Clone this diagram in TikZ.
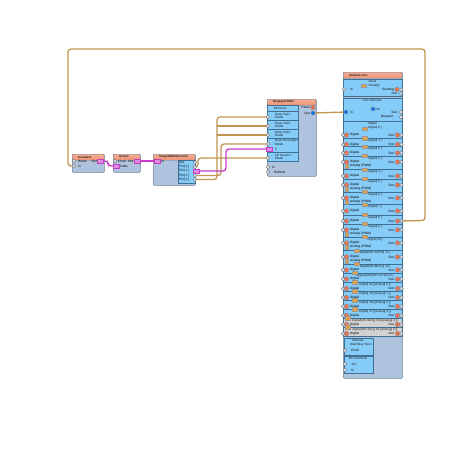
\documentclass[tikz,border=0pt]{standalone}
\usepackage{fontspec}
\setmainfont{Liberation Sans}
\definecolor{panel}{HTML}{AFC3DE}
\definecolor{edge}{HTML}{6E8296}
\definecolor{head}{HTML}{EE9272}
\definecolor{band}{HTML}{86CCF8}
\definecolor{bandedge}{HTML}{3F6F92}
\definecolor{wiretan}{HTML}{C0964F}
\definecolor{wirepink}{HTML}{C83CC8}
\definecolor{pinfill}{HTML}{DCE2EA}
\definecolor{pinred}{HTML}{E8755A}
\definecolor{ico}{HTML}{E8A040}
\definecolor{greyband}{HTML}{D2D2D2}
\tikzset{
  compbox/.style={draw=edge,line width=.7pt,fill=panel,rounded corners=1pt,inner sep=0pt,anchor=north west},
  headbox/.style={draw=edge,line width=.4pt,top color=head!75!white,bottom color=head,rounded corners=1pt,inner sep=0pt,anchor=north west},
  bandbox/.style={draw=bandedge,line width=.6pt,fill=band,inner sep=0pt,anchor=north west},
  greybox/.style={bandbox,fill=greyband},
  ttl/.style={font=\fontsize{3}{3}\selectfont,text=black!90,inner sep=0pt},
  lbl/.style={font=\fontsize{3.2}{3.2}\selectfont,text=black,inner sep=0pt},
  wt/.style={draw=wiretan,line width=1.3pt,rounded corners=3pt},
  wp/.style={draw=wirepink,line width=1.3pt,rounded corners=3pt},
  pinmark/.style={circle,draw=black!55,fill=pinfill,line width=.3pt,minimum size=3.6pt,inner sep=0pt},
  redmark/.style={circle,draw=black!50,fill=pinred,line width=.3pt,minimum size=4.6pt,inner sep=0pt},
  pinkmark/.style={rectangle,draw=wirepink,fill=wirepink!60,line width=.4pt,minimum width=6pt,minimum height=3.6pt,inner sep=0pt},
  bluemark/.style={circle,draw=black!50,fill=blue!55!cyan,line width=.3pt,minimum size=4pt,inner sep=0pt},
  icomark/.style={rectangle,fill=ico,draw=black!40,line width=.25pt,minimum width=5pt,minimum height=3.4pt,inner sep=0pt},
}
\newcommand{\compbox}[6]{%
  \node[compbox,minimum width=#4pt,minimum height=#5pt] (#1) at (#2,#3) {};
  \node[headbox,minimum width=#4pt,minimum height=6pt] (#1h) at (#2,#3) {};
  \node[ttl,anchor=west] (#1t) at ([xshift=6pt]#1h.west) {\textbf{#6}};
}
\newcommand{\bandbox}[6]{\node[#6,minimum width=#4pt,minimum height=#5pt] (#1) at (#2,#3) {};}
\begin{document}
\begin{tikzpicture}[x=1pt,y=-1pt]
\useasboundingbox (0,0) rectangle (474,455);
\fill[white] (0,0) rectangle (474,455);
\compbox{cnt}{72}{154}{32}{18}{Counter1}
\node[lbl,anchor=west] (cntr) at (78,161) {Reset};
\node[lbl,anchor=west] (cnti) at (78,166) {In};
\node[lbl,anchor=east] (cnto) at (97,161) {Out};
\compbox{arr}{113}{154}{27}{18}{Array1}
\node[lbl,anchor=west] (arrc) at (118,161) {Clock};
\node[lbl,anchor=west] (arri) at (120,166) {Index};
\node[lbl,anchor=east] (arro) at (133.5,161) {Out};
\compbox{imt}{153}{154}{42}{31}{IntegerMathSource1}
\bandbox{imb}{178}{160}{17}{23}{bandbox}
\node[lbl,anchor=west] (imin) at (161,161) {In};
\foreach \yy/\tx/\nm in {162.5/Out/a,167/Pin[ 0 ]/b,171/Pin[ 1 ]/c,175.5/Pin[ 2 ]/d,179.5/Pin[ 3 ]/e}
  \node[lbl,anchor=west] (im\nm) at (179,\yy) {\tx};
\compbox{dsp}{267}{99}{49}{77}{DisplayILI9341}
\bandbox{dspb}{267}{105}{31}{56}{bandbox}
\node[ttl] (dsptt) at (280,108) {Elements};
\foreach \yt/\tx/\nm in {114/Draw Text1/p,123/Draw Text2/q,132/Draw Text3/r,141/Draw Rectangle1/s,155/Fill Screen1/t}{
  \draw[bandedge,line width=.5pt] (267,\yt-3) -- (298,\yt-3);
  \node[ttl,anchor=west] (dl\nm) at (275,\yt) {\tx};
}
\foreach \yt/\nm in {117.5/p,126.5/q,135.5/r,144.5/s,158.5/t}
  \node[lbl,anchor=west] (dc\nm) at (275,\yt) {Clock};
\node[lbl,anchor=west] (dy) at (275,149) {Y};
\node[lbl,anchor=west] (dsyn) at (272,167) {In};
\node[lbl,anchor=west] (dref) at (274,172) {Refresh};
\node[lbl,anchor=east] (drst) at (310,107.5) {Reset};
\node[lbl,anchor=east] (dout) at (310,113) {Out};
\compbox{ard}{343}{72}{59}{306}{Arduino Uno}
\bandbox{srl}{343}{79}{59}{17}{bandbox}
\node[ttl] (srlt) at (372.5,81.5) {Serial};
\node[ttl] (srln) at (374,85.5) {Serial[0]};
\node[lbl,anchor=west] (srli) at (350,89.5) {In};
\node[lbl,anchor=east] (srls) at (394,89.5) {Sending};
\node[lbl,anchor=east] (srlo) at (397,93.5) {Out};
\bandbox{i2c}{343}{98}{59}{23}{bandbox}
\node[ttl] (i2ct) at (372.5,100.5) {I2C Channels};
\node[ttl] (i2cn) at (378,109) {I2C};
\node[lbl,anchor=west] (i2ci) at (350,112) {In};
\node[lbl,anchor=east] (i2co) at (397,112) {Out};
\node[lbl,anchor=east] (i2cr) at (393,117) {Request};
\foreach \n/\ytop/\hh/\ty/\ry/\an/\tx/\bx in {
 a/121/17/128/135/0/Digital[ 0 ]/bandbox,
 b/138/8/140.5/144.5/0/Digital[ 1 ]/bandbox,
 c/146/10/148.5/153/0/Digital[ 2 ]/bandbox,
 d/156/13/158.5/162/1/Digital[ 3 ]/bandbox,
 e/169/10/171.5/176/0/Digital[ 4 ]/bandbox,
 f/179/13/181.5/185/1/Digital[ 5 ]/bandbox,
 g/192/12/194.5/198/1/Digital[ 6 ]/bandbox,
 h/204/11/206.5/211/0/Digital[ 7 ]/bandbox,
 i/215/9/217.5/221/0/Digital[ 8 ]/bandbox,
 j/224/13/226.5/230/1/Digital[ 9 ]/bandbox,
 k/237/13/239.5/243/1/Digital[ 10 ]/bandbox,
 l/250/14/253/257/1/Digital(SPI-MOSI)[ 11 ]/bandbox,
 m/264/9/266.5/270/0/Digital(SPI-MISO)[ 12 ]/bandbox,
 n/273/9/275.5/279/0/Digital(LED)(SPI-SCK)[ 13 ]/bandbox,
 o/282/9/284.5/288.5/0/Digital[ 14 ](Analog[ 0 ])/bandbox,
 p/291/9/293.5/297.5/0/Digital[ 15 ](Analog[ 1 ])/bandbox,
 q/300/9/302.5/306.5/0/Digital[ 16 ](Analog[ 2 ])/bandbox,
 r/309/9/311.5/315.5/0/Digital[ 17 ](Analog[ 3 ])/bandbox,
 s/318/9/320.5/324.5/0/Digital(I2C-SDA)[ 18 ](Analog[ 4 ])/greybox,
 t/327/9/329.5/333.5/0/Digital(I2C-SCL)[ 19 ](Analog[ 5 ])/greybox}{
  \node[\bx,minimum width=59pt,minimum height=\hh pt] (row\n) at (343,\ytop) {};
  \node[ttl] (rowt\n) at (375,\ty) {\tx};
  \node[lbl,anchor=west] (rowd\n) at (350,\ry) {Digital};
  \node[lbl,anchor=east] (rowo\n) at (394,\ry) {Out};
  \ifnum\an=1 \node[lbl,anchor=west] (rowa\n) at (350,\ry+4) {Analog (PWM)}; \fi
}
\node[ttl] (digt) at (372.5,123.5) {Digital};
\bandbox{modb}{344}{338}{29}{16.5}{bandbox}
\node[ttl] (modt) at (358,340.5) {Modules};
\node[ttl] (modw) at (361,345) {Watchdog Timer};
\node[lbl,anchor=west] (modc) at (351,350.5) {Clock};
\bandbox{chb}{344}{356}{29}{17}{bandbox}
\node[ttl] (cht) at (358,358.5) {I2C Channels};
\node[ttl] (chs) at (354,364) {SPI};
\node[lbl,anchor=west] (chi) at (351,370) {In};
\coordinate (pcin) at (75,166);
\coordinate (pcout) at (101,161);
\coordinate (paidx) at (116,166);
\coordinate (paout) at (137,161);
\coordinate (pmin) at (156,161);
\coordinate (pm0) at (195,167);
\coordinate (pm1) at (195,171);
\coordinate (pm2) at (195,175.5);
\coordinate (pm3) at (195,179.5);
\coordinate (pd1) at (267,117);
\coordinate (pd2) at (267,126);
\coordinate (pd3) at (267,135);
\coordinate (pd4) at (267,144);
\coordinate (pdy) at (267,149);
\coordinate (pd5) at (267,158);
\coordinate (pdout) at (313,113);
\coordinate (pain) at (346,112);
\coordinate (paard) at (399,221);
\draw[wt] (pcin) -- (68,166) -- (68,49) -- (425,49) -- (425,220.5) -- (paard);
\draw[wp] (pcout) -- (108,161) -- (108,166) -- (paidx);
\draw[wp] (paout) -- (pmin);
\draw[wt] (pm0) -- (198,167) -- (198,158) -- (pd5);
\draw[wt] (pm3) -- (217,179.5) -- (217,117) -- (pd1);
\draw[wt] (217,126) -- (pd2);
\draw[wt] (217,135) -- (pd3);
\draw[wt] (pm2) -- (221,175.5) -- (221,144) -- (pd4);
\draw[wp] (pm1) -- (226,171) -- (226,149) -- (pdy);
\draw[wt] (pdout) -- (pain);
\foreach \x/\y/\nm in {74/161/a,74/166/b,115/161/c,268/167/d,268/172/e,344/89.5/f,401/93.5/g,401/112/h,401/117/i,345/350.5/j,345/370/k,345/364/l}
  \node[pinmark] (pinm\nm) at (\x,\y) {};
\foreach \x/\y/\nm in {100.5/161/a,116/166/b,137/161/c,157/161/d,196/171/e,269/149/f}
  \node[pinkmark] (pkm\nm) at (\x,\y) {};
\foreach \y/\nm in {117/a,126/b,135/c,144/d,158/e}
  \node[pinmark] (cm\nm) at (268,\y) {};
\foreach \y/\nm in {162.5/a,167/b,175.5/c,179.5/d}
  \node[pinmark] (sm\nm) at (195,\y) {};
\node[redmark] (rm1) at (313,107.5) {};
\node[bluemark] (bm1) at (313,113) {};
\node[redmark] (rm2) at (397,89.5) {};
\node[pinmark] (pinsend) at (401.5,89.5) {};
\node[bluemark] (bm2) at (346,112) {};
\node[icomark] (ic0) at (364,85.5) {};
\node[bluemark] (ic1) at (373,109) {};
\foreach \ry/\an/\ix/\nm in {135/0/365/a,144.5/0/365/b,153/0/365/c,162/1/365/d,176/0/365/e,185/1/365/f,198/1/365/g,211/0/365/h,221/0/365/i,230/1/365/j,243/1/365/k,257/1/357/l,270/0/357/m,279/0/355/n,288.5/0/355/o,297.5/0/355/p,306.5/0/355/q,315.5/0/355/r,324.5/0/348/s,333.5/0/348/t}{
  \node[pinmark] (dl\nm) at (343,\ry) {};
  \node[redmark] (dr\nm) at (346.5,\ry) {};
  \node[pinmark] (dp\nm) at (401.5,\ry) {};
  \node[redmark] (do\nm) at (397.5,\ry) {};
  \node[icomark] (di\nm) at (\ix,\ry-6.5) {};
  \ifnum\an=1 \node[icomark,minimum width=3.6pt] (da\nm) at (346.5,\ry+4) {}; \fi
}
\end{tikzpicture}
\end{document}
